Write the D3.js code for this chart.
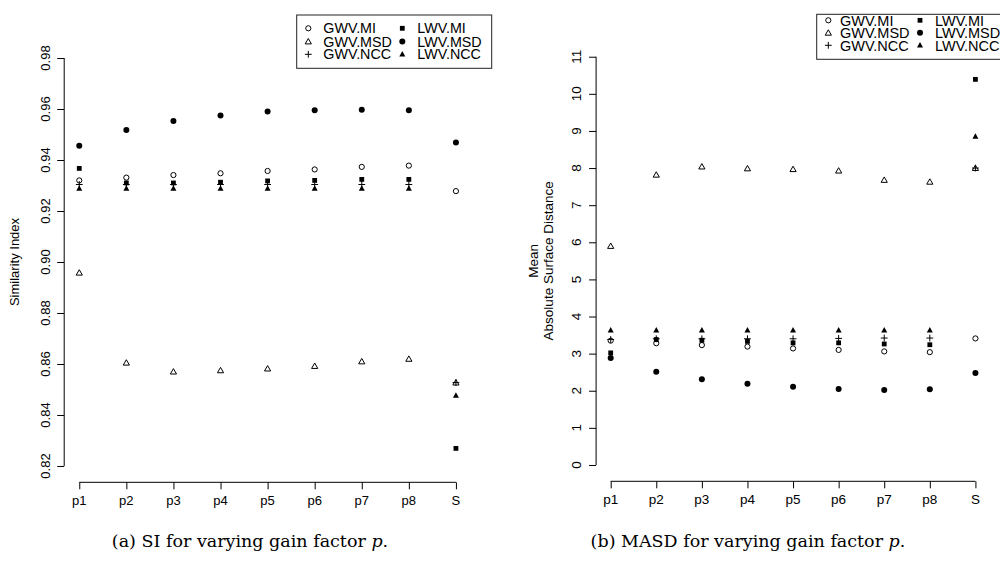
<!DOCTYPE html>
<html><head><meta charset="utf-8">
<script src="https://cdn.jsdelivr.net/npm/d3@7"></script>
<style>
body{margin:0;background:#fff;}
svg{display:block;}
text{font-family:"Liberation Sans",Arial,sans-serif;fill:#000;}
.cap{font-family:"DejaVu Serif","Liberation Serif",serif;}
</style></head>
<body>
<svg id="c" width="1000" height="561"></svg>
<script>
// ---------- data ----------
const categories = ["p1","p2","p3","p4","p5","p6","p7","p8","S"];
const seriesNames = ["GWV.MI","GWV.MSD","GWV.NCC","LWV.MI","LWV.MSD","LWV.NCC"];

const siGWV_MI  = [0.9320,0.9331,0.9341,0.9348,0.9357,0.9363,0.9373,0.9378,0.9278];
const siGWV_MSD = [0.8958,0.8605,0.8570,0.8575,0.8582,0.8592,0.8610,0.8620,0.8527];
const siGWV_NCC = [0.9304,0.9304,0.9304,0.9304,0.9304,0.9304,0.9304,0.9304,0.8527];
const siLWV_MI  = [0.9367,0.9310,0.9310,0.9313,0.9318,0.9320,0.9324,0.9324,0.8269];
const siLWV_MSD = [0.9456,0.9518,0.9553,0.9575,0.9590,0.9595,0.9597,0.9595,0.9469];
const siLWV_NCC = [0.9288,0.9288,0.9288,0.9288,0.9288,0.9288,0.9288,0.9288,0.8477];

const mdGWV_MI  = [3.35,3.28,3.23,3.19,3.14,3.10,3.06,3.04,3.41];
const mdGWV_MSD = [5.90,7.82,8.04,7.99,7.97,7.93,7.68,7.63,8.00];
const mdGWV_NCC = [3.38,3.40,3.40,3.40,3.40,3.41,3.42,3.42,8.00];
const mdLWV_MI  = [3.02,3.38,3.36,3.33,3.29,3.29,3.26,3.24,10.39];
const mdLWV_MSD = [2.88,2.51,2.31,2.19,2.11,2.05,2.02,2.04,2.48];
const mdLWV_NCC = [3.63,3.63,3.63,3.63,3.63,3.63,3.63,3.63,8.85];

const siTicks = [0.82,0.84,0.86,0.88,0.90,0.92,0.94,0.96,0.98];
const mdTicks = [0,1,2,3,4,5,6,7,8,9,10,11];

const siSeries = [siGWV_MI,siGWV_MSD,siGWV_NCC,siLWV_MI,siLWV_MSD,siLWV_NCC];
const mdSeries = [mdGWV_MI,mdGWV_MSD,mdGWV_NCC,mdLWV_MI,mdLWV_MSD,mdLWV_NCC];

// ---------- drawing ----------
const svg = d3.select("#c");

function marker(g, name, x, y){
  switch(name){
    case "GWV.MI":
      g.append("circle").attr("cx",x).attr("cy",y).attr("r",2.6).attr("fill","none").attr("stroke","#000").attr("stroke-width",1); break;
    case "GWV.MSD":
      g.append("path").attr("d",`M${x},${y-3}L${x+3.1},${y+2.4}L${x-3.1},${y+2.4}Z`).attr("fill","none").attr("stroke","#000").attr("stroke-width",1); break;
    case "GWV.NCC":
      g.append("path").attr("d",`M${x-3.4},${y}H${x+3.4}M${x},${y-3.4}V${y+3.4}`).attr("stroke","#000").attr("stroke-width",1); break;
    case "LWV.MI":
      g.append("rect").attr("x",x-2.4).attr("y",y-2.4).attr("width",4.8).attr("height",4.8).attr("fill","#000"); break;
    case "LWV.MSD":
      g.append("circle").attr("cx",x).attr("cy",y).attr("r",3).attr("fill","#000"); break;
    case "LWV.NCC":
      g.append("path").attr("d",`M${x},${y-3.2}L${x+3},${y+2.3}L${x-3},${y+2.3}Z`).attr("fill","#000"); break;
  }
}

function panel(cfg){
  const g = svg.append("g");
  const idx = categories.map((c,i)=>i+1);
  const x = d3.scaleLinear().domain([0.68,9.32]).range([cfg.left,cfg.right]);
  const lo = cfg.ticks[0], hi = cfg.ticks[cfg.ticks.length-1], pad=(hi-lo)*0.04;
  const y = d3.scaleLinear().domain([lo-pad,hi+pad]).range([cfg.bottom,cfg.top]);

  // y axis
  const ya = g.append("g").attr("transform",`translate(${cfg.left},0)`)
    .call(d3.axisLeft(y).tickValues(cfg.ticks).tickSize(7).tickFormat(""));
  ya.select(".domain").remove();
  ya.selectAll(".tick line").attr("stroke","#000");
  g.append("line").attr("x1",cfg.left).attr("x2",cfg.left).attr("y1",y(lo)).attr("y2",y(hi)).attr("stroke","#000");
  g.selectAll(".ylab").data(cfg.ticks).enter().append("text")
    .attr("transform",d=>`translate(${cfg.left-14.7},${y(d)}) rotate(-90)`)
    .attr("text-anchor","middle").style("font-size",cfg.tickFont+"px")
    .text(d=>cfg.fmt(d));

  // x axis
  const xa = g.append("g").attr("transform",`translate(0,${cfg.bottom})`)
    .call(d3.axisBottom(x).tickValues(idx).tickSize(7).tickFormat(""));
  xa.select(".domain").remove();
  xa.selectAll(".tick line").attr("stroke","#000");
  g.append("line").attr("x1",x(1)).attr("x2",x(9)).attr("y1",cfg.bottom).attr("y2",cfg.bottom).attr("stroke","#000");
  g.selectAll(".xlab").data(categories).enter().append("text")
    .attr("x",(d,i)=>x(i+1)).attr("y",cfg.bottom+22.5)
    .attr("text-anchor","middle").style("font-size",cfg.tickFont+"px").text(d=>d);

  // y title
  cfg.title.forEach((t,k)=>{
    g.append("text").attr("transform",`translate(${cfg.titleX[k]},${(y(lo)+y(hi))/2}) rotate(-90)`)
      .attr("text-anchor","middle").style("font-size",cfg.titleFont+"px").text(t);
  });

  // points
  cfg.series.forEach((vals,s)=>{
    vals.forEach((v,i)=> marker(g, seriesNames[s], x(i+1), y(v)));
  });

  // legend
  const L = cfg.legend;
  g.append("rect").attr("x",L.x).attr("y",L.y).attr("width",L.w).attr("height",L.h)
    .attr("fill","#fff").attr("stroke","#222").attr("stroke-width",1);
  seriesNames.forEach((n,s)=>{
    const col = Math.floor(s/3), row = s%3;
    const sx = L.symX[col], ty = L.rowY[row];
    marker(g, n, sx, ty);
    g.append("text").attr("x",L.txtX[col]).attr("y",ty).attr("dy","0.36em")
      .style("font-size",L.font+"px").text(n);
  });

  // caption
  const cap = g.append("text").attr("class","cap").attr("x",cfg.capX).attr("y",547)
    .attr("text-anchor","middle").style("font-size","17.5px");
  cap.append("tspan").text(cfg.caption);
  cap.append("tspan").style("font-style","italic").text("p");
  cap.append("tspan").text(".");
}

panel({
  left:64.2, right:471, top:41.7, bottom:482.3,
  ticks:siTicks, fmt:d3.format(".2f"), tickFont:13,
  title:["Similarity Index"], titleX:[19], titleFont:13,
  series:siSeries,
  legend:{x:296.7,y:15,w:195,h:53.3,symX:[308.3,402.3],txtX:[323.3,417.3],rowY:[28.3,41.5,54.3],font:14.3},
  capX:250, caption:"(a) SI for varying gain factor "
});

panel({
  left:596.1, right:990, top:40.4, bottom:481.3,
  ticks:mdTicks, fmt:d3.format("d"), tickFont:13.5,
  title:["Mean","Absolute Surface Distance"], titleX:[538,553], titleFont:13.5,
  series:mdSeries,
  legend:{x:816.7,y:14.3,w:220,h:45,symX:[828.3,920],txtX:[840,935],rowY:[20.3,32.8,45.3],font:14.5},
  capX:748, caption:"(b) MASD for varying gain factor "
});
</script>
</body></html>
